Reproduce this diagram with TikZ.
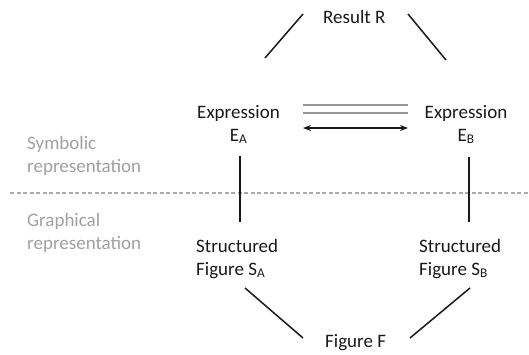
\documentclass[tikz,border=0pt]{standalone}
\usepackage{fontspec}
\setmainfont{Carlito}
\usetikzlibrary{arrows.meta,calc}
\definecolor{ink}{RGB}{25,25,25}
\definecolor{labgray}{RGB}{160,160,160}
\definecolor{dblgray}{RGB}{150,150,150}
\definecolor{dashgray}{RGB}{170,170,170}
\tikzset{
  txt/.style={inner sep=0pt, text=ink, font=\fontsize{19}{23}\selectfont},
  side/.style={inner sep=0pt, text=labgray, align=left, anchor=base west, font=\fontsize{19}{23}\selectfont},
  conn/.style={draw=ink, line width=1.5pt},
  eqline/.style={draw=dblgray, line width=1.1pt},
  biarrow/.style={draw=ink, line width=1.5pt, {Stealth[length=8pt,width=6pt]}-{Stealth[length=8pt,width=6pt]}},
  sepline/.style={draw=dashgray, line width=1.1pt, dash pattern=on 4pt off 2.5pt}
}
\begin{document}
\begin{tikzpicture}[x=1pt,y=-1pt]
\useasboundingbox (0,0) rectangle (529,354);
% separator
\draw[sepline] (10,193) -- (529,193);
% side labels (base = baseline of last line)
\node[side] (sym) at (27,172) {Symbolic\\representation};
\node[side] (gra) at (27,249) {Graphical\\representation};
% main nodes
\node[txt, anchor=base west] (R) at (323,23) {Result R};
\node[txt, anchor=base, align=center] (EA) at (238.5,141) {Expression\\E\textsubscript{A}};
\node[txt, anchor=base, align=center] (EB) at (466,141) {Expression\\E\textsubscript{B}};
\node[txt, anchor=base west, align=left] (SA) at (196,275) {Structured\\Figure S\textsubscript{A}};
\node[txt, anchor=base west, align=left] (SB) at (419,275) {Structured\\Figure S\textsubscript{B}};
\node[txt, anchor=base west] (F) at (325,347) {Figure F};
% connectors
\draw[conn] ($(R.base west)+(-20,-9)$) -- ($(EA.base)+(26.5,-83)$);
\draw[conn] ($(R.base west)+(85,-9)$) -- ($(EB.base)+(-20,-81)$);
\draw[conn] ($(EA.base)+(1.5,15)$) -- ($(SA.base west)+(44,-53)$);
\draw[conn] ($(EB.base)+(3,16)$) -- ($(SB.base west)+(50,-53)$);
\draw[conn] ($(SA.base west)+(49,13)$) -- ($(F.base west)+(-22,-9)$);
\draw[conn] ($(SB.base west)+(51,13)$) -- ($(F.base west)+(85,-9)$);
% equivalence and transformation
\draw[eqline] ($(EA.base)+(64.5,-36)$) -- ($(EB.base)+(-58,-36)$);
\draw[eqline] ($(EA.base)+(64.5,-28)$) -- ($(EB.base)+(-58,-28)$);
\draw[biarrow] ($(EA.base)+(64.5,-13)$) -- ($(EB.base)+(-58,-13)$);
\end{tikzpicture}
\end{document}
